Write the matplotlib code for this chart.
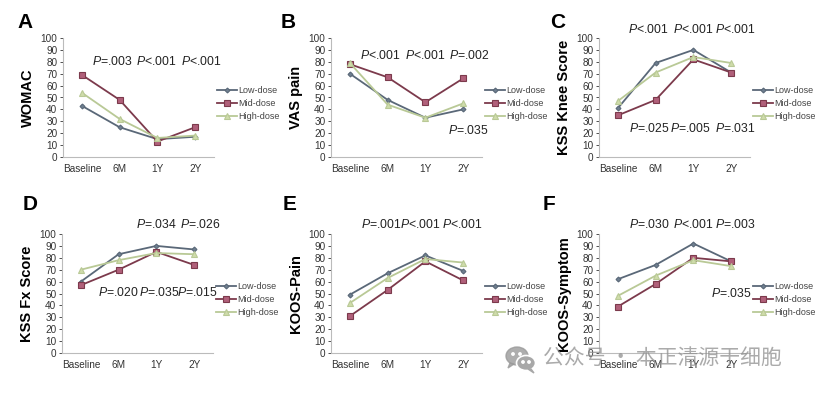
import numpy as np
import matplotlib.pyplot as plt
from matplotlib.patches import Ellipse, Polygon

plt.rcParams['font.family'] = ['Liberation Sans', 'Noto Sans CJK SC', 'DejaVu Sans']
plt.rcParams['mathtext.fontset'] = 'custom'
plt.rcParams['mathtext.rm'] = 'Liberation Sans'
plt.rcParams['mathtext.it'] = 'Liberation Sans:italic'

# Datos
categorias = ['Baseline', '6M', '1Y', '2Y']
grupos = ['Low-dose', 'Mid-dose', 'High-dose']

womac_low = [43, 25, 15, 17]
womac_mid = [69, 48, 13, 25]
womac_high = [54, 32, 16, 18]

vas_low = [70, 48, 33, 40]
vas_mid = [78, 67, 46, 66]
vas_high = [79, 44, 33, 45]

kss_knee_low = [41, 79, 90, 71]
kss_knee_mid = [35, 48, 82, 71]
kss_knee_high = [47, 71, 84, 79]

kss_fx_low = [60, 83, 90, 87]
kss_fx_mid = [57, 70, 85, 74]
kss_fx_high = [70, 78, 84, 83]

koos_pain_low = [49, 67, 82, 69]
koos_pain_mid = [31, 53, 77, 61]
koos_pain_high = [42, 63, 79, 76]

koos_sym_low = [62, 74, 92, 77]
koos_sym_mid = [39, 58, 80, 77]
koos_sym_high = [48, 65, 78, 73]

# Textos de p-valores: (x, y, texto)
p_womac = [(0.8, 80, 'P=.003'), (1.97, 80, 'P<.001'), (3.16, 80, 'P<.001')]
p_vas = [(0.8, 85, 'P<.001'), (1.99, 85, 'P<.001'), (3.15, 85, 'P=.002'), (3.15, 22, 'P=.035')]
p_kss_knee = [(0.8, 107, 'P<.001'), (2.0, 107, 'P<.001'), (3.1, 107, 'P<.001'),
              (0.84, 24, 'P=.025'), (1.93, 24, 'P=.005'), (3.1, 24, 'P=.031')]
p_kss_fx = [(2.0, 108, 'P=.034'), (3.17, 108, 'P=.026'),
            (0.98, 51, 'P=.020'), (2.07, 51, 'P=.035'), (3.09, 51, 'P=.015')]
p_koos_pain = [(0.83, 108, 'P=.001'), (1.87, 108, 'P<.001'), (2.99, 108, 'P<.001')]
p_koos_sym = [(0.83, 108, 'P=.030'), (1.99, 108, 'P<.001'), (3.1, 108, 'P=.003'), (3.0, 50, 'P=.035')]

paneles = [
    ('A', 'WOMAC', womac_low, womac_mid, womac_high, p_womac),
    ('B', 'VAS pain', vas_low, vas_mid, vas_high, p_vas),
    ('C', 'KSS Knee Score', kss_knee_low, kss_knee_mid, kss_knee_high, p_kss_knee),
    ('D', 'KSS Fx Score', kss_fx_low, kss_fx_mid, kss_fx_high, p_kss_fx),
    ('E', 'KOOS-Pain', koos_pain_low, koos_pain_mid, koos_pain_high, p_koos_pain),
    ('F', 'KOOS-Symptom', koos_sym_low, koos_sym_mid, koos_sym_high, p_koos_sym),
]

colores = ['#5a6878', '#7c3a4c', '#b9c996']
caras = ['#6f7f90', '#b0607a', '#cfdcaa']
marcadores = ['D', 's', '^']
tamanos = [2.5, 4.5, 4]

W, H = 821, 393
fig = plt.figure(figsize=(W / 100, H / 100), dpi=100)

# posiciones en pixeles: (izquierda, base, letra x, letra y)
posiciones = [(63, 157, 25, 22), (331, 157, 288, 22), (599, 157, 558, 22),
              (62, 353, 30, 204), (331, 353, 290, 204), (599, 353, 549, 204)]
ancho, alto = 151, 119

for (letra, etiqueta, low, mid, high, pvals), (px, py, lx, ly) in zip(paneles, posiciones):
    ax = fig.add_axes([px / W, 1 - py / H, ancho / W, alto / H])
    x = np.arange(len(categorias))
    for serie, nombre, c, cf, m, ms in zip([low, mid, high], grupos, colores, caras, marcadores, tamanos):
        ax.plot(x, serie, color=c, lw=1.3, marker=m, ms=ms, mfc=cf, mec=c, mew=0.8, label=nombre)
    ax.set_xlim(-0.5, 3.5)
    ax.set_ylim(0, 100)
    ax.set_yticks(range(0, 101, 10))
    ax.set_xticks(x)
    ax.set_xticklabels(categorias)
    ax.tick_params(labelsize=7.2, colors='#333333', length=2, width=0.6, pad=2)
    ax.tick_params(axis='x', length=0, pad=5)
    for s in ['top', 'right']:
        ax.spines[s].set_visible(False)
    for s in ['left', 'bottom']:
        ax.spines[s].set_color('#bbbbbb')
        ax.spines[s].set_linewidth(0.8)
    ax.set_ylabel(etiqueta, fontsize=10.5, fontweight='bold', labelpad=4)
    ax.legend(loc='center left', bbox_to_anchor=(0.99, 0.45), frameon=False, fontsize=6.5,
              handlelength=2.2, handletextpad=0.1, labelspacing=0.45, borderpad=0,
              labelcolor='#444444')
    for xt, yt, t in pvals:
        ax.text(xt, yt, '$\\it{P}$' + t[1:], fontsize=8.8, ha='center', va='center', color='#222222')
    fig.text(lx / W, 1 - ly / H, letra, fontsize=15, fontweight='bold', ha='center', va='center')

# marca de agua
fig.text(543 / W, 1 - 358 / H, '公众号 · 本正清源干细胞', fontsize=15, color='#8f8f8f', alpha=0.75,
         ha='left', va='center', family=['Noto Sans CJK SC', 'DejaVu Sans'], zorder=10)
axw = fig.add_axes([503 / W, 1 - 375 / H, 36 / W, 32 / H])
axw.set_xlim(0, 36)
axw.set_ylim(0, 32)
axw.axis('off')
axw.add_patch(Ellipse((14, 19), 22, 18, color='#9a9a9a', alpha=0.8))
axw.add_patch(Polygon([(7, 12), (5, 7), (11, 11)], color='#9a9a9a', alpha=0.8))
axw.add_patch(Ellipse((23, 12), 19, 15, color='#a8a8a8', ec='white', lw=1.2))
axw.add_patch(Polygon([(28, 6), (31, 2), (25, 6)], color='#a8a8a8'))
for cx, cy in [(10, 21), (17, 21), (20, 13), (26, 13)]:
    axw.add_patch(Ellipse((cx, cy), 2.4, 2.4, color='white'))

fig.savefig('out.png', dpi=100, facecolor='white')
